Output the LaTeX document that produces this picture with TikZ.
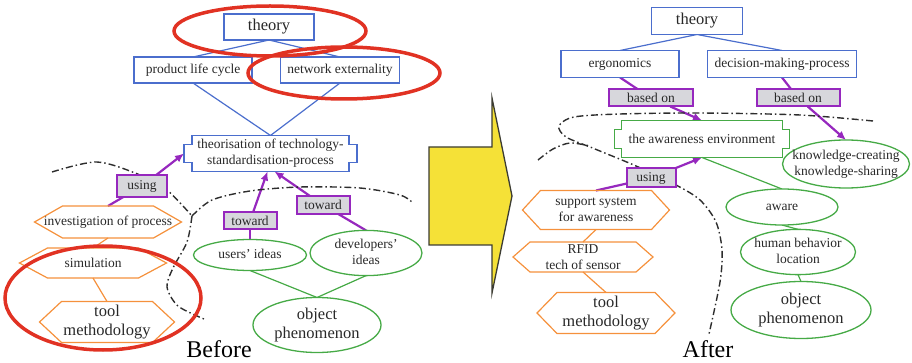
\documentclass[tikz,border=0pt]{standalone}
\usepackage{fontspec}
\setmainfont{Liberation Serif}
\usetikzlibrary{shapes.geometric,arrows.meta}
\pgfdeclarelayer{bg}
\pgfdeclarelayer{fg}
\pgfsetlayers{bg,main,fg}

\definecolor{bluec}{RGB}{75,110,205}
\definecolor{purp}{RGB}{150,40,190}
\definecolor{tagfill}{RGB}{215,215,220}
\definecolor{orangec}{RGB}{245,145,60}
\definecolor{greenc}{RGB}{70,170,70}
\definecolor{redc}{RGB}{225,50,35}
\definecolor{yel}{RGB}{245,225,55}
\definecolor{arrowedge}{RGB}{60,60,50}
\definecolor{txt}{RGB}{40,40,40}
\definecolor{dashc}{RGB}{45,45,45}

\newcommand\lblfont{\fontsize{13.5}{16}\selectfont}
\newcommand\bigfont{\fontsize{16.5}{19}\selectfont}
% text of an ellipse, kept out of the shape's size computation
\newcommand\ctext[1]{\makebox[0pt]{\begin{tabular}{@{}c@{}}#1\end{tabular}}}
% hexagon outline around a rectangular node: node, inset, colour
\newcommand\hexframe[3]{%
  \draw[#3, line width=1.2pt] (#1.west) -- ([xshift=#2]#1.north west)
    -- ([xshift=-#2]#1.north east) -- (#1.east)
    -- ([xshift=-#2]#1.south east) -- ([xshift=#2]#1.south west) -- cycle;}
% box with stepped (notched) corners: node, notch x, notch y, colour
\newcommand\notchframe[4]{%
  \draw[#4, line width=1.2pt] ([xshift=#2]#1.north west) -- ([xshift=-#2]#1.north east)
    -- ([xshift=-#2,yshift=-#3]#1.north east) -- ([yshift=-#3]#1.north east)
    -- ([yshift=#3]#1.south east) -- ([xshift=-#2,yshift=#3]#1.south east)
    -- ([xshift=-#2]#1.south east) -- ([xshift=#2]#1.south west)
    -- ([xshift=#2,yshift=#3]#1.south west) -- ([yshift=#3]#1.south west)
    -- ([yshift=-#3]#1.north west) -- ([xshift=#2,yshift=-#3]#1.north west) -- cycle;}

\begin{document}
\begin{tikzpicture}[x=1pt,y=-1pt,
  every node/.append style={text=txt, inner sep=0pt, outer sep=0pt, font=\lblfont, align=center},
  bluebox/.style={draw=bluec, line width=1.2pt, fill=white, minimum height=26pt},
  tagbox/.style={draw=purp, line width=2pt, fill=tagfill, minimum height=18pt},
  greenell/.style={ellipse, draw=greenc, line width=1.3pt, fill=white},
  hexnode/.style={minimum height=32pt},
  thinlink/.style={line width=1.2pt},
  purplelink/.style={draw=purp, line width=2.2pt},
  purplearrow/.style={purplelink, -{Latex[length=9pt,width=8pt]}},
  dashdot/.style={line width=1.4pt, draw=dashc, dash pattern=on 7pt off 3pt on 1.5pt off 3pt},
  redring/.style={draw=redc, line width=3.5pt},
  bigcaption/.style={font=\fontsize{24}{28}\selectfont, text=black}
]
\useasboundingbox (0,0) rectangle (912,363);

% ---------------- Before ----------------
\node[bluebox, minimum width=90pt, font=\bigfont] (thL) at (269,27) {theory};
\node[bluebox, minimum width=118pt] (plc) at (193,70) {product life cycle};
\node[bluebox, minimum width=119pt] (netx) at (340,70) {network externality};
\node[minimum width=173pt, minimum height=36pt] (theo) at (270.5,153.5)
  {theorisation of technology-\\standardisation-process};
\notchframe{theo}{8pt}{9pt}{bluec}
\node[tagbox, minimum width=50pt, minimum height=22pt] (useL) at (142,186) {using};
\node[tagbox, minimum width=53pt, minimum height=17pt] (tw1) at (250,221) {toward};
\node[tagbox, minimum width=53pt, minimum height=18pt] (tw2) at (323,205) {toward};
\node[hexnode, minimum width=147pt] (inv) at (108,222) {investigation of process};
\hexframe{inv}{28pt}{orangec}
\node[hexnode, minimum width=147pt, minimum height=30pt] (sim) at (93,263) {simulation};
\hexframe{sim}{28pt}{orangec}
\node[hexnode, minimum width=135pt, minimum height=41pt, font=\bigfont] (toolL) at (107,322) {tool\\methodology};
\hexframe{toolL}{22pt}{orangec}
\node[greenell, minimum width=113pt, minimum height=31pt] (usr) at (250,255) {\ctext{users' ideas}};
\node[greenell, minimum width=112pt, minimum height=32pt] (dev) at (366,253) {\ctext{developers'\\ideas}};
\node[greenell, minimum width=128pt, minimum height=55pt, font=\bigfont] (objL) at (317,325) {\ctext{object\\phenomenon}};
\node[bigcaption] (before) at (219,349) {Before};

% ---------------- After ----------------
\node[bluebox, minimum width=91pt, minimum height=27pt, font=\bigfont] (thR) at (697,21) {theory};
\node[bluebox, minimum width=118pt, minimum height=27pt] (ergo) at (620,64) {ergonomics};
\node[bluebox, minimum width=149pt, minimum height=27pt] (dmp) at (782,64) {decision-making-process};
\node[tagbox, minimum width=84pt, minimum height=17pt] (bo1) at (651,98) {based on};
\node[tagbox, minimum width=83pt, minimum height=17pt] (bo2) at (798,98) {based on};
\node[minimum width=175pt, minimum height=37pt] (awe) at (702,139) {the awareness environment};
\notchframe{awe}{7pt}{9pt}{greenc}
\node[greenell, minimum width=127pt, minimum height=48pt] (kn) at (846,164) {\ctext{knowledge-creating\\knowledge-sharing}};
\node[tagbox, minimum width=49pt, minimum height=19pt] (useR) at (651,178) {using};
\node[greenell, minimum width=112pt, minimum height=36pt] (awr) at (782,207) {\ctext{aware}};
\node[greenell, minimum width=115pt, minimum height=36pt] (hum) at (798,252) {\ctext{human behavior\\location}};
\node[greenell, minimum width=140pt, minimum height=57pt, font=\bigfont] (objR) at (801,310) {\ctext{object\\phenomenon}};
\node[hexnode, minimum width=147pt, minimum height=39pt] (sup) at (596,210) {support system\\for awareness};
\hexframe{sup}{18pt}{orangec}
\node[hexnode, minimum width=140pt, minimum height=30pt] (rfid) at (583,257) {RFID\\tech of sensor};
\hexframe{rfid}{17pt}{orangec}
\node[hexnode, minimum width=138pt, minimum height=41pt, font=\bigfont] (toolR) at (606,313) {tool\\methodology};
\hexframe{toolR}{20pt}{orangec}
\node[bigcaption] (after) at (708,349) {After};

% ---------------- connectors and boundaries ----------------
\begin{pgfonlayer}{bg}
  % Before
  \draw[thinlink, bluec] (thL.south) -- (plc.north);
  \draw[thinlink, bluec] (thL.south) -- (netx.north);
  \draw[thinlink, bluec] (plc.south) -- (theo.north);
  \draw[thinlink, bluec] (netx.south) -- (theo.north);
  \draw[purplelink] (inv.north) -- (useL);
  \draw[purplearrow] (useL) -- (theo.west);
  \draw[purplelink] (usr.north) -- (tw1);
  \draw[purplearrow] (tw1) -- ([xshift=-3pt]theo.south);
  \draw[purplelink] (dev.north) -- (tw2);
  \draw[purplearrow] (tw2) -- ([xshift=4pt]theo.south);
  \draw[thinlink, orangec] (inv.south) -- (sim.north);
  \draw[thinlink, orangec] (sim.south) -- (toolL.north);
  \draw[thinlink, greenc] (usr.south) -- (objL.north);
  \draw[thinlink, greenc] (dev.south) -- (objL.north);

  \draw[dashdot] plot[smooth] coordinates {(52,172) (97,162) (140,175) (167,190) (192,216)};
  \draw[dashdot] plot[smooth] coordinates {(192,216) (187,242) (173,268) (167,287) (178,306) (204,319)};
  \draw[dashdot] plot[smooth] coordinates {(192,216) (212,200) (250,191) (300,187) (360,188) (400,195) (413,203)};

  % After
  \draw[thinlink, bluec] (thR.south) -- (ergo.north);
  \draw[thinlink, bluec] (thR.south) -- (dmp.north);
  \draw[purplelink] (ergo.south) -- (bo1);
  \draw[purplearrow] (bo1) -- (awe.north);
  \draw[purplelink] (dmp.south) -- (bo2);
  \draw[purplearrow] (bo2) -- (kn.north);
  \draw[purplelink] (sup.north) -- (useR);
  \draw[purplearrow] (useR) -- (awe.south);
  \draw[thinlink, greenc] (awe.south) -- (awr.north);
  \draw[thinlink, greenc] (awr.south) -- (hum.north);
  \draw[thinlink, greenc] (hum.south) -- (objR.north);
  \draw[thinlink, orangec] (sup.south) -- (rfid.north);
  \draw[thinlink, orangec] (rfid.south) -- (toolR.north);

  \draw[dashdot] plot[smooth] coordinates {(873,121) (800,115) (700,113) (620,114) (574,117) (559,126) (566,137) (595,149) (636,166) (676,185) (700,200) (716,222) (722,250) (720,282) (709,334)};
  \draw[dashdot] plot[smooth] coordinates {(538,160) (553,149) (570,143) (590,146)};
\end{pgfonlayer}

% transition arrow
\filldraw[fill=yel, draw=arrowedge, line width=1.3pt, line join=miter]
  (429,147) -- (492,147) -- (492,98) -- (512,196) -- (492,293) -- (492,245) -- (429,245) -- cycle;

% highlight rings
\begin{pgfonlayer}{fg}
  \draw[redring] (270,31) ellipse [x radius=96pt, y radius=25pt];
  \draw[redring] (344,73) ellipse [x radius=96pt, y radius=26pt];
  \draw[redring] (103,298) ellipse [x radius=98pt, y radius=52pt];
\end{pgfonlayer}
\end{tikzpicture}
\end{document}
